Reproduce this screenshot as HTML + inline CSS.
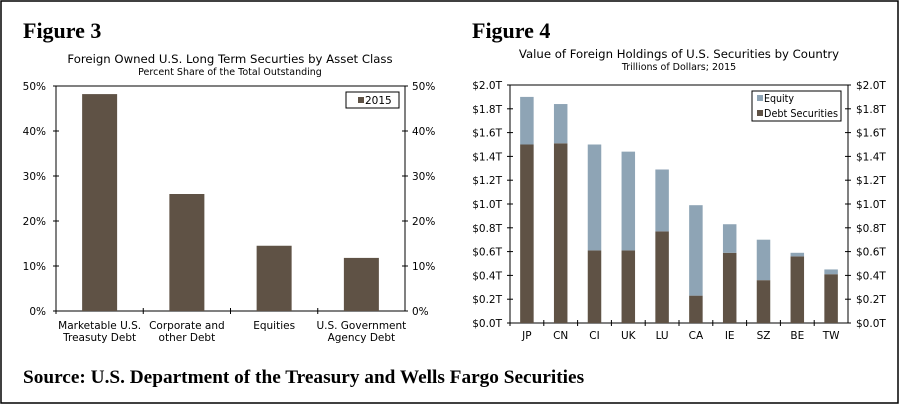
<!DOCTYPE html>
<html><head><meta charset="utf-8"><style>
html,body{margin:0;padding:0;background:#fff}
svg{display:block}
.t{font-family:"DejaVu Sans","Liberation Sans",sans-serif;fill:#000}
.h{font-family:"Liberation Serif",serif;font-weight:bold;fill:#000}
</style></head><body>
<svg id="s" width="900" height="405" viewBox="0 0 900 405" xmlns="http://www.w3.org/2000/svg">
<rect x="1" y="1" width="897" height="402" fill="#fff" stroke="#000" stroke-width="1.5"/>
<text class="h" x="23" y="38" font-size="22">Figure 3</text>
<text class="h" x="472" y="38" font-size="22">Figure 4</text>
<text class="t" x="230" y="63" font-size="11.7" text-anchor="middle">Foreign Owned U.S. Long Term Securties by Asset Class</text>
<text class="t" x="230" y="75" font-size="9.5" text-anchor="middle">Percent Share of the Total Outstanding</text>
<text class="t" x="679" y="58" font-size="11.7" text-anchor="middle">Value of Foreign Holdings of U.S. Securities by Country</text>
<text class="t" x="679" y="70" font-size="9.5" text-anchor="middle">Trillions of Dollars; 2015</text>
<text class="h" x="23" y="383" font-size="19.3">Source:  U.S. Department of the Treasury and Wells Fargo Securities</text>
<g id="f3"></g><g id="f4"></g>
</svg>
<script>
const cats3 = ["Marketable U.S.|Treasuty Debt","Corporate and|other Debt","Equities","U.S. Government|Agency Debt"];
const vals3 = [48.2, 26.0, 14.5, 11.8];
const ticks3 = [0,10,20,30,40,50];
const cats4 = ["JP","CN","CI","UK","LU","CA","IE","SZ","BE","TW"];
const debt4 = [1.50,1.51,0.61,0.61,0.77,0.23,0.59,0.36,0.56,0.41];
const equity4 = [0.40,0.33,0.89,0.83,0.52,0.76,0.24,0.34,0.03,0.04];
const ticks4 = [0,0.2,0.4,0.6,0.8,1.0,1.2,1.4,1.6,1.8,2.0];
const NS="http://www.w3.org/2000/svg";
function mk(p,tag,a,txt){const e=document.createElementNS(NS,tag);for(const k in a)e.setAttribute(k,a[k]);if(txt!==undefined)e.textContent=txt;p.appendChild(e);return e;}
const BROWN="#5f5245", BLUE="#8ea4b5";
// Figure 3
(function(){
const g=document.getElementById('f3');
const L=56,R=405,T=86,B=311,max=50;
const y=v=>B-(v/max)*(B-T);
const bw=(R-L)/cats3.length;
let f=mk(g,'rect',{x:L,y:T,width:R-L,height:B-T,fill:'none',stroke:'#000','stroke-width':1});

ticks3.forEach(v=>{
 mk(g,'line',{x1:L-3,x2:L+3,y1:y(v),y2:y(v),stroke:'#000'});
 mk(g,'line',{x1:R-3,x2:R+3,y1:y(v),y2:y(v),stroke:'#000'});
 let a=mk(g,'text',{class:'t',x:L-10,y:y(v)+4,'font-size':10.5,'text-anchor':'end'},v+'%');
 
 let b=mk(g,'text',{class:'t',x:R+7,y:y(v)+4,'font-size':10.5},v+'%');
 
});
cats3.forEach((c,i)=>{
 mk(g,'line',{x1:L+bw*i,x2:L+bw*i,y1:B-3,y2:B+3,stroke:'#000'});
 const cx=L+bw*(i+0.5);
 let r=mk(g,'rect',{x:cx-17.5,y:y(vals3[i]),width:35,height:B-y(vals3[i]),fill:BROWN});
 
 c.split('|').forEach((ln,j)=>{let t=mk(g,'text',{class:'t',x:cx,y:B+18+j*12,'font-size':10.5,'text-anchor':'middle'},ln);
 });
});
let lg=mk(g,'rect',{x:346,y:92,width:53,height:16,fill:'#fff',stroke:'#000'});

mk(g,'rect',{x:358,y:97,width:6,height:6,fill:BROWN});
let lt=mk(g,'text',{class:'t',x:365,y:104,'font-size':10.5},'2015');

})();
// Figure 4
(function(){
const g=document.getElementById('f4');
const L=510,R=848,T=85,B=323,max=2.0;
const y=v=>B-(v/max)*(B-T);
const bw=(R-L)/cats4.length;
let f=mk(g,'rect',{x:L,y:T,width:R-L,height:B-T,fill:'none',stroke:'#000','stroke-width':1});

ticks4.forEach(v=>{
 mk(g,'line',{x1:L-3,x2:L+3,y1:y(v),y2:y(v),stroke:'#000'});
 mk(g,'line',{x1:R-3,x2:R+3,y1:y(v),y2:y(v),stroke:'#000'});
 const s='$'+v.toFixed(1)+'T';
 let a=mk(g,'text',{class:'t',x:L-8,y:y(v)+4,'font-size':10.5,'text-anchor':'end'},s);
 
 let b=mk(g,'text',{class:'t',x:R+8,y:y(v)+4,'font-size':10.5},s);
 
});
cats4.forEach((c,i)=>{
 mk(g,'line',{x1:L+bw*i,x2:L+bw*i,y1:B-3,y2:B+3,stroke:'#000'});
 const cx=L+bw*(i+0.5), w=13.5;
 let d=mk(g,'rect',{x:cx-w/2,y:y(debt4[i]),width:w,height:B-y(debt4[i]),fill:BROWN});
 
 let e=mk(g,'rect',{x:cx-w/2,y:y(debt4[i]+equity4[i]),width:w,height:y(debt4[i])-y(debt4[i]+equity4[i]),fill:BLUE});
 
 let t=mk(g,'text',{class:'t',x:cx,y:B+16,'font-size':10.5,'text-anchor':'middle'},c);
 
});
let lg=mk(g,'rect',{x:752,y:91,width:89,height:30,fill:'#fff',stroke:'#000'});

mk(g,'rect',{x:757,y:95,width:6,height:6,fill:BLUE});
let l1=mk(g,'text',{class:'t',x:764,y:102,'font-size':10.3,textLength:30,lengthAdjust:'spacingAndGlyphs'},'Equity');

mk(g,'rect',{x:757,y:110,width:6,height:6,fill:BROWN});
let l2=mk(g,'text',{class:'t',x:764,y:117,'font-size':10.3,textLength:74,lengthAdjust:'spacingAndGlyphs'},'Debt Securities');

})();
</script>
</body></html>
